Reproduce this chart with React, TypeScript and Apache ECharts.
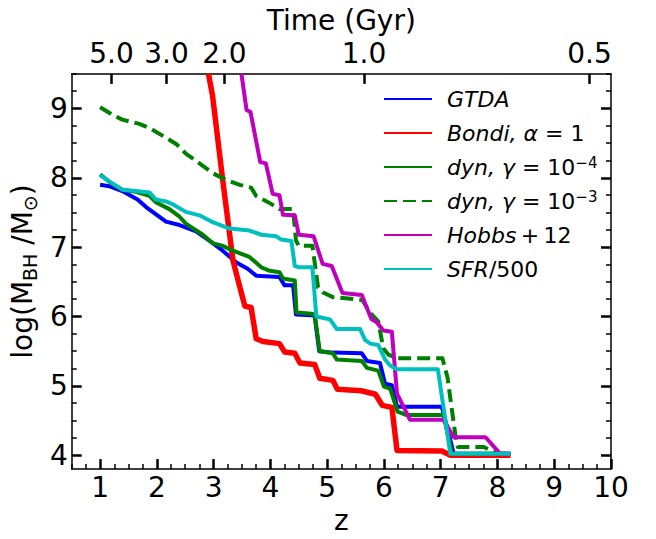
import React, { useEffect, useRef } from 'react';
import * as echarts from 'echarts';

// ---- Data: [redshift z, log(M_BH/M_sun)] ----
const gtda: [number, number][] = [
  [1.0, 7.9], [1.16, 7.88], [1.39, 7.81], [1.66, 7.69], [1.81, 7.58], [2.04, 7.44], [2.16, 7.37],
  [2.4, 7.32], [2.69, 7.23], [2.93, 7.09], [3.16, 6.95], [3.4, 6.78], [3.6, 6.69], [3.75, 6.59],
  [4.16, 6.57], [4.25, 6.45], [4.4, 6.45], [4.45, 6.03], [4.72, 6.02], [4.78, 6.01], [4.86, 5.5],
  [5.1, 5.48], [5.61, 5.47], [5.7, 5.36], [5.93, 5.33], [6.02, 5.03], [6.14, 5.01], [6.23, 4.7],
  [7.02, 4.7], [7.23, 4.02], [8.23, 4.02],
];
const bondi: [number, number][] = [
  [2.91, 9.5], [2.98, 9.19], [3.16, 7.97], [3.34, 6.81], [3.46, 6.43], [3.55, 6.15], [3.66, 6.13],
  [3.75, 5.68], [3.87, 5.64], [4.16, 5.61], [4.25, 5.49], [4.43, 5.47], [4.52, 5.33], [4.78, 5.31],
  [4.87, 5.11], [5.1, 5.08], [5.18, 4.95], [5.6, 4.93], [5.85, 4.88], [5.97, 4.72], [6.14, 4.69],
  [6.23, 4.07], [7.02, 4.06], [7.17, 4.0], [8.23, 4.0],
];
const dynG4: [number, number][] = [
  [1.0, 8.05], [1.2, 7.92], [1.39, 7.83], [1.63, 7.8], [1.87, 7.74], [1.98, 7.65], [2.22, 7.55],
  [2.4, 7.44], [2.51, 7.34], [2.81, 7.18], [2.98, 7.06], [3.16, 7.02], [3.34, 6.95], [3.63, 6.86],
  [3.84, 6.71], [3.99, 6.66], [4.16, 6.64], [4.22, 6.55], [4.43, 6.52], [4.46, 6.06], [4.72, 6.04],
  [4.78, 6.03], [4.87, 5.5], [5.1, 5.47], [5.17, 5.38], [5.61, 5.36], [5.7, 5.26], [5.9, 5.22],
  [6.0, 4.99], [6.11, 4.96], [6.24, 4.63], [6.4, 4.58], [7.05, 4.58], [7.2, 4.02], [8.23, 4.02],
];
const dynG3: [number, number][] = [
  [1.0, 9.02], [1.22, 8.91], [1.39, 8.84], [1.69, 8.78], [1.87, 8.72], [2.16, 8.58], [2.34, 8.49],
  [2.51, 8.35], [2.75, 8.21], [2.98, 8.07], [3.22, 7.97], [3.46, 7.9], [3.66, 7.86], [3.75, 7.74],
  [3.96, 7.65], [4.16, 7.55], [4.4, 7.55], [4.45, 7.1], [4.5, 7.02], [4.74, 7.02], [4.84, 6.42],
  [4.92, 6.35], [5.1, 6.28], [5.62, 6.24], [5.75, 6.06], [5.9, 5.93], [5.99, 5.54], [6.08, 5.45],
  [6.23, 5.4], [7.03, 5.4], [7.12, 5.12], [7.26, 4.28], [7.3, 4.12], [7.76, 4.12], [7.88, 4.07],
  [8.05, 4.02], [8.23, 4.02],
];
const hobbs: [number, number][] = [
  [3.49, 9.5], [3.58, 8.98], [3.65, 8.95], [3.82, 8.23], [3.92, 8.21], [4.04, 7.77], [4.16, 7.75],
  [4.22, 7.47], [4.43, 7.46], [4.5, 7.18], [4.76, 7.16], [4.92, 6.76], [5.08, 6.73], [5.27, 6.34],
  [5.61, 6.31], [5.78, 5.96], [5.87, 5.92], [5.99, 5.8], [6.14, 5.78], [6.23, 4.89], [6.46, 4.51],
  [7.05, 4.51], [7.23, 4.26], [7.79, 4.26], [8.05, 4.02], [8.23, 4.02],
];
const sfr: [number, number][] = [
  [1.0, 8.04], [1.16, 7.95], [1.39, 7.83], [1.63, 7.81], [1.87, 7.79], [1.98, 7.69], [2.16, 7.66],
  [2.28, 7.62], [2.51, 7.51], [2.75, 7.46], [2.96, 7.37], [3.28, 7.27], [3.63, 7.24], [3.84, 7.18],
  [4.1, 7.16], [4.19, 7.11], [4.37, 7.09], [4.43, 6.73], [4.5, 6.71], [4.74, 6.71], [4.81, 6.0],
  [5.05, 5.96], [5.17, 5.82], [5.58, 5.82], [5.67, 5.66], [5.76, 5.61], [5.9, 5.59], [6.02, 5.38],
  [6.1, 5.3], [6.22, 5.24], [6.95, 5.24], [7.17, 4.02], [8.23, 4.02],
];

const seriesNames = ['GTDA', 'Bondi, α = 1', 'dyn, γ = 10^-4', 'dyn, γ = 10^-3', 'Hobbs + 12', 'SFR/500'];
const seriesColors = ['#0000ff', '#ff0000', '#008000', '#008000', '#bf00bf', '#00bfbf'];
const legendRich = [
  '{i|GTDA}',
  '{i|Bondi, α}{n| = 1}',
  '{i|dyn, γ}{n| = 10}{sup|−4}',
  '{i|dyn, γ}{n| = 10}{sup|−3}',
  '{i|Hobbs}{n|\u2009+\u200912}',
  '{i|SFR}{n|/500}',
];

// ---- Axes ----
const zMajorTicks = [1, 2, 3, 4, 5, 6, 7, 8, 9, 10];
const zRange = [0.5, 10];
const massMajorTicks = [4, 5, 6, 7, 8, 9];
const massRange = [3.8, 9.5];
const timeTickZ = [1.2, 2.17, 3.19, 5.65, 9.62];
const timeTickLabels = ['5.0', '3.0', '2.0', '1.0', '0.5'];

function quarterMinors(lo: number, hi: number): number[] {
  const out: number[] = [];
  for (let v = Math.ceil(lo * 4) / 4; v <= hi + 1e-9; v += 0.25) {
    if (Math.abs(v - Math.round(v)) > 1e-6) out.push(Math.round(v * 100) / 100);
  }
  return out;
}

const FONT = 'DejaVu Sans';

export default function App() {
  const ref = useRef<HTMLDivElement>(null);
  useEffect(() => {
    if (!ref.current) return;
    const chart = echarts.init(ref.current, undefined, { renderer: 'svg' });
    const zMinor = quarterMinors(zRange[0], zRange[1]);
    const mMinor = quarterMinors(massRange[0], massRange[1]);
    const black = '#000';
    const line = { show: true, onZero: false, lineStyle: { color: black, width: 1.5 } };
    const noLine = { show: false, onZero: false };
    const majorTick = (vals: number[]) => ({
      show: true, inside: true, length: 10, customValues: vals, lineStyle: { color: black, width: 2.5 },
    });
    const minorTick = (vals: number[]) => ({
      show: true, inside: true, length: 5, customValues: vals, lineStyle: { color: black, width: 1.5 },
    });
    const noLabel = { show: false };
    const baseX = { type: 'value', min: zRange[0], max: zRange[1], splitLine: { show: false } };
    const baseY = { type: 'value', min: massRange[0], max: massRange[1], splitLine: { show: false } };

    const data = [gtda, bondi, dynG4, dynG3, hobbs, sfr];
    const option: any = {
      animation: false,
      backgroundColor: '#ffffff',
      textStyle: { fontFamily: FONT },
      grid: { left: 71, right: 45, top: 69, bottom: 66, containLabel: false },
      legend: {
        orient: 'vertical',
        left: 383,
        top: 87,
        padding: 0,
        itemWidth: 48,
        itemHeight: 14,
        itemGap: 10,
        data: seriesNames,
        itemStyle: { opacity: 0 },
        formatter: (name: string) => legendRich[seriesNames.indexOf(name)],
        textStyle: {
          fontFamily: FONT,
          fontSize: 22,
          color: black,
          lineHeight: 24,
          padding: [0, 0, 0, 10],
          rich: {
            i: { fontFamily: FONT, fontSize: 22, fontStyle: 'italic', color: black, lineHeight: 24, verticalAlign: 'middle' },
            n: { fontFamily: FONT, fontSize: 22, color: black, lineHeight: 24, verticalAlign: 'middle' },
            sup: { fontFamily: FONT, fontSize: 15, color: black, lineHeight: 14, verticalAlign: 'top' },
          },
        },
      },
      xAxis: [
        {
          ...baseX,
          position: 'bottom',
          name: 'z',
          nameLocation: 'middle',
          nameGap: 31,
          nameTextStyle: { fontFamily: FONT, fontSize: 28, color: black },
          axisLine: line,
          axisTick: majorTick(zMajorTicks),
          axisLabel: { show: true, customValues: zMajorTicks, fontFamily: FONT, fontSize: 28, color: black, margin: 4 },
        },
        { ...baseX, position: 'bottom', axisLine: noLine, axisTick: minorTick(zMinor), axisLabel: noLabel },
        {
          ...baseX,
          position: 'top',
          name: 'Time (Gyr)',
          nameLocation: 'middle',
          nameGap: 34,
          nameTextStyle: { fontFamily: FONT, fontSize: 28, color: black, lineHeight: 30 },
          axisLine: line,
          axisTick: majorTick(timeTickZ),
          axisLabel: {
            show: true,
            customValues: timeTickZ,
            fontFamily: FONT,
            fontSize: 28,
            color: black,
            margin: 6,
            formatter: (v: number) => {
              const i = timeTickZ.findIndex((t) => Math.abs(t - v) < 1e-6);
              return i >= 0 ? timeTickLabels[i] : '';
            },
          },
        },
      ],
      yAxis: [
        {
          ...baseY,
          position: 'left',
          name: '{n|log(M}{sub|BH}{n| /M}{sub|⊙}{n|)}',
          nameLocation: 'middle',
          nameGap: 27,
          nameTextStyle: {
            fontFamily: FONT,
            fontSize: 28,
            color: black,
            rich: {
              n: { fontFamily: FONT, fontSize: 28, color: black, lineHeight: 34, verticalAlign: 'middle' },
              sub: { fontFamily: FONT, fontSize: 19, color: black, lineHeight: 16, verticalAlign: 'bottom' },
            },
          },
          axisLine: line,
          axisTick: majorTick(massMajorTicks),
          axisLabel: { show: true, customValues: massMajorTicks, fontFamily: FONT, fontSize: 28, color: black, margin: 4 },
        },
        { ...baseY, position: 'left', axisLine: noLine, axisTick: minorTick(mMinor), axisLabel: noLabel },
        { ...baseY, position: 'right', axisLine: line, axisTick: majorTick(massMajorTicks), axisLabel: noLabel },
        { ...baseY, position: 'right', axisLine: noLine, axisTick: minorTick(mMinor), axisLabel: noLabel },
      ],
      series: data.map((d, i) => ({
        name: seriesNames[i],
        type: 'line',
        xAxisIndex: 0,
        yAxisIndex: 0,
        data: d,
        symbol: 'none',
        showSymbol: false,
        clip: true,
        color: seriesColors[i],
        itemStyle: { color: seriesColors[i] },
        lineStyle: {
          color: seriesColors[i],
          width: i === 1 ? 5.5 : 4,
          type: i === 3 ? [13, 6] : 'solid',
          join: 'round',
        },
        emphasis: { disabled: true },
      })),
    };
    chart.setOption(option);
    return () => chart.dispose();
  }, []);
  return <div ref={ref} style={{ position: 'fixed', left: 0, top: 0, width: 656, height: 539 }} />;
}
